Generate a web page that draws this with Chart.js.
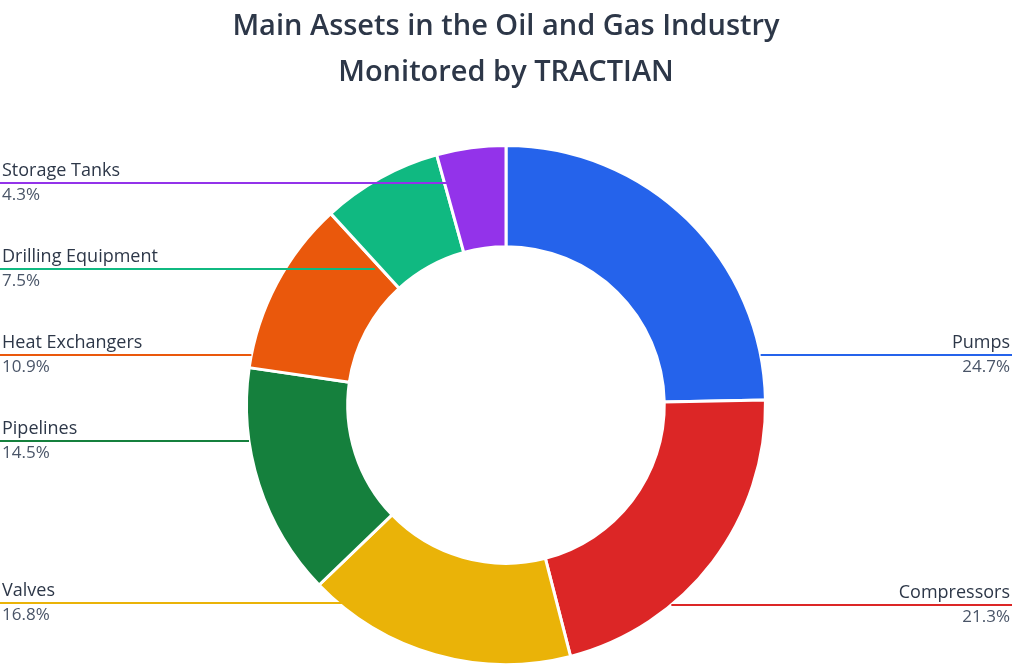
<!DOCTYPE html>
<html><head><meta charset="utf-8">
<script src="https://cdn.jsdelivr.net/npm/chart.js@4/dist/chart.umd.min.js"></script>
<style>body{margin:0;background:#fff}#wrap{width:1012px;height:668px}</style>
</head><body><div id="wrap"><canvas id="c"></canvas></div>
<script>
const titleLines = ['Main Assets in the Oil and Gas Industry', 'Monitored by TRACTIAN'];
const categories = ['Pumps', 'Compressors', 'Valves', 'Pipelines', 'Heat Exchangers', 'Drilling Equipment', 'Storage Tanks'];
const shares = [24.7, 21.3, 16.8, 14.5, 10.9, 7.5, 4.3];
const colors = ['#2563eb', '#dc2626', '#eab308', '#15803d', '#ea580c', '#10b981', '#9333ea'];
// label line heights (canvas px) and side
const labelY = [355, 605, 603, 441, 355, 269, 183];
const labelSide = ['right', 'right', 'left', 'left', 'left', 'left', 'left'];

const calloutPlugin = {
    id: 'callouts',
    afterDatasetsDraw(chart){
        const ctx = chart.ctx;
        const arc = chart.getDatasetMeta(0).data[0];
        const cx = arc.x, cy = arc.y, R = arc.outerRadius, r = arc.innerRadius;
        const W = chart.width;
        ctx.save();
        chart.getDatasetMeta(0).data.forEach((a, i) => {
            const y = labelY[i];
            const dy = y - cy;
            let dx;
            if(Math.abs(dy) < R){ dx = Math.sqrt(R*R - dy*dy); }
            else { dx = 0; }
            const mid = (a.startAngle + a.endAngle) / 2;
            const midX = cx + (R + r) / 2 * Math.cos(mid);
            let endX = labelSide[i] == 'left' ? cx - dx : cx + dx;
            if(labelSide[i] == 'left' && Math.abs(dy) > 120) endX = Math.max(endX, midX - 30);
            ctx.strokeStyle = colors[i];
            ctx.lineWidth = 2;
            ctx.beginPath();
            if(labelSide[i] == 'left'){ ctx.moveTo(0, y); ctx.lineTo(endX, y); }
            else { ctx.moveTo(W, y); ctx.lineTo(endX, y); }
            ctx.stroke();
            ctx.textAlign = labelSide[i] == 'left' ? 'left' : 'right';
            const tx = labelSide[i] == 'left' ? 2 : W - 2;
            ctx.fillStyle = '#2d3748';
            ctx.font = '500 18px "Open Sans"';
            ctx.textBaseline = 'bottom';
            ctx.fillText(categories[i], tx, y - 3);
            ctx.fillStyle = '#4a5568';
            ctx.font = '17px "Open Sans"';
            ctx.textBaseline = 'top';
            ctx.fillText(shares[i].toFixed(1) + '%', tx, y + 4);
        });
        ctx.fillStyle = '#2d3748';
        ctx.font = '600 29px "Open Sans"';
        ctx.textAlign = 'center';
        ctx.textBaseline = 'middle';
        ctx.fillText(titleLines[0], 506, 27);
        ctx.fillText(titleLines[1], 506, 73);
        ctx.restore();
    }
};

new Chart(document.getElementById('c'), {
    type: 'doughnut',
    data: {
        labels: categories,
        datasets: [{
            data: shares,
            backgroundColor: colors,
            borderColor: '#ffffff',
            borderWidth: 3
        }]
    },
    options: {
        responsive: true,
        maintainAspectRatio: false,
        animation: false,
        cutout: '61%',
        layout: { padding: { top: 144, bottom: 2 } },
        plugins: { legend: { display: false }, tooltip: { enabled: false }, title: { display: false } }
    },
    plugins: [calloutPlugin]
});
</script>
</body></html>
